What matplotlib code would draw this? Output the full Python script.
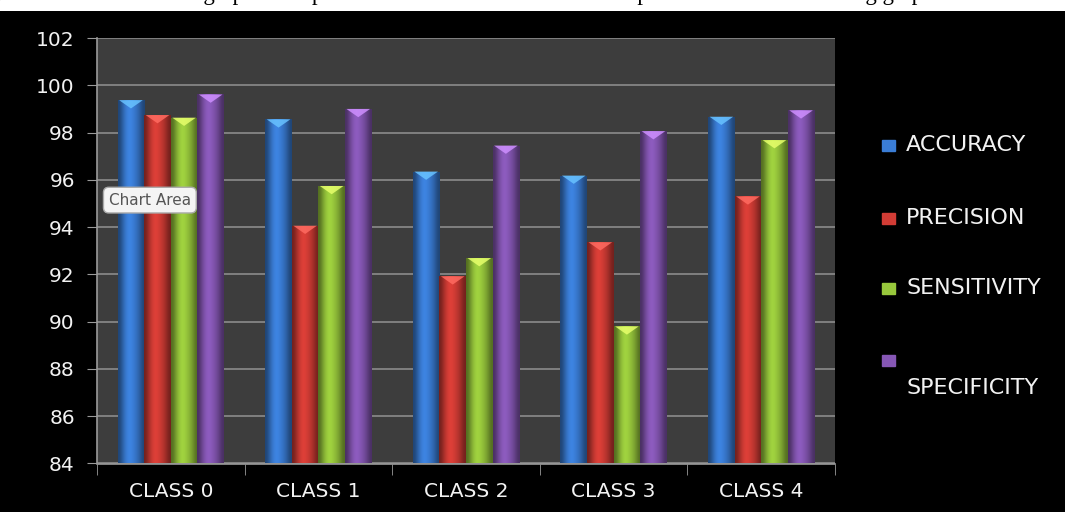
import numpy as np
import matplotlib.pyplot as plt
from matplotlib.patches import Rectangle

classes = ["CLASS 0", "CLASS 1", "CLASS 2", "CLASS 3", "CLASS 4"]
accuracy = [99.37, 98.56, 96.35, 96.18, 98.67]
precision = [98.74, 94.06, 91.92, 93.36, 95.30]
sensitivity = [98.63, 95.74, 92.69, 89.80, 97.68]
specificity = [99.61, 99.00, 97.45, 98.06, 98.94]
series_names = ["ACCURACY", "PRECISION", "SENSITIVITY", "SPECIFICITY"]
yticks = [84, 86, 88, 90, 92, 94, 96, 98, 100, 102]

colors = ["#3a7dd6", "#d23c35", "#98c83c", "#8657b5"]
font = "DejaVu Sans"
txtc = "#f2f2f2"

fig = plt.figure(figsize=(10.65, 5.12), dpi=100, facecolor="black")

# white strip with the caption cut off at the very top
top = fig.add_axes([0, 1 - 11 / 512, 1, 11 / 512])
top.set_xlim(0, 1)
top.set_ylim(0, 1)
top.axis("off")
top.add_patch(Rectangle((0, 0), 1, 1, color="white", zorder=0))
top.text(0.515, 0.97, "The graphical representation of the above table is represented in the following graph",
         ha="center", va="baseline", fontsize=16.5, family="Liberation Serif", color="black", clip_on=True)

ax = fig.add_axes([97 / 1065, 48.5 / 512, 738 / 1065, 425.5 / 512])
ax.set_facecolor("#3d3d3d")

x = np.arange(len(classes))
w = 0.18
data = [accuracy, precision, sensitivity, specificity]
grad = np.array([[0.55, 0.8, 1.0, 1.08, 1.0, 0.9, 0.75, 0.55]])
for i, vals in enumerate(data):
    offs = (i - 1.5) * w
    bars = ax.bar(x + offs, np.array(vals) - 84, width=w, bottom=84, color=colors[i], zorder=3, linewidth=0)
    base = np.array(plt.matplotlib.colors.to_rgb(colors[i]))
    img = np.clip(grad[..., None] * base, 0, 1)
    for b in bars:
        im = ax.imshow(img, extent=(b.get_x(), b.get_x() + b.get_width(), 84, b.get_y() + b.get_height()),
                       aspect="auto", zorder=4, interpolation="bicubic")
        im.set_clip_path(b)
        # light cap at the top of each bar
        cx = b.get_x() + b.get_width() / 2
        tp = b.get_y() + b.get_height()
        ax.fill([b.get_x() + 0.01, b.get_x() + b.get_width() - 0.01, cx], [tp, tp, tp - 0.35],
                color=np.clip(base * 1.35 + 0.1, 0, 1), zorder=5, linewidth=0, alpha=0.85)

ax.set_xlim(-0.5, len(classes) - 0.5)
ax.set_ylim(84, 102)
ax.set_yticks(yticks)
ax.set_yticklabels([str(t) for t in yticks], color=txtc, fontsize=14.5, family=font)
ax.set_xticks(x)
ax.set_xticklabels(classes, color=txtc, fontsize=14.5, family=font)
ax.set_xticks(np.arange(-0.5, len(classes), 1), minor=True)
ax.tick_params(axis="x", which="major", length=0, pad=13)
ax.tick_params(axis="x", which="minor", length=8, color="#9a9a9a", direction="out")
ax.tick_params(axis="y", length=7, color="#9a9a9a", direction="out", pad=9)
ax.grid(axis="y", color="#8c8c8c", linewidth=1.2, zorder=1)
ax.set_axisbelow(True)
for s in ["top", "right"]:
    ax.spines[s].set_visible(False)
for s in ["left", "bottom"]:
    ax.spines[s].set_color("#9a9a9a")
    ax.spines[s].set_linewidth(1.2)

# tooltip left in the screenshot
ax.text(0.016, 0.619, "Chart Area", transform=ax.transAxes, fontsize=11, family=font, color="#555555",
        ha="left", va="center", zorder=10,
        bbox=dict(boxstyle="round,pad=0.35", fc="#f4f4f4", ec="#aaaaaa"))

# legend drawn on the figure
leg_y = [145, 218, 288, 360]
for i, name in enumerate(series_names):
    yy = 1 - leg_y[i] / 512
    fig.patches.append(Rectangle((882 / 1065, yy - 6 / 512), 13 / 1065, 11 / 512,
                                 transform=fig.transFigure, color=colors[i], figure=fig))
    ty = yy if i < 3 else 1 - 388 / 512
    fig.text(906 / 1065, ty, name, color=txtc, fontsize=16, family=font, va="center")

fig.savefig("out.png", dpi=100, facecolor="black")
